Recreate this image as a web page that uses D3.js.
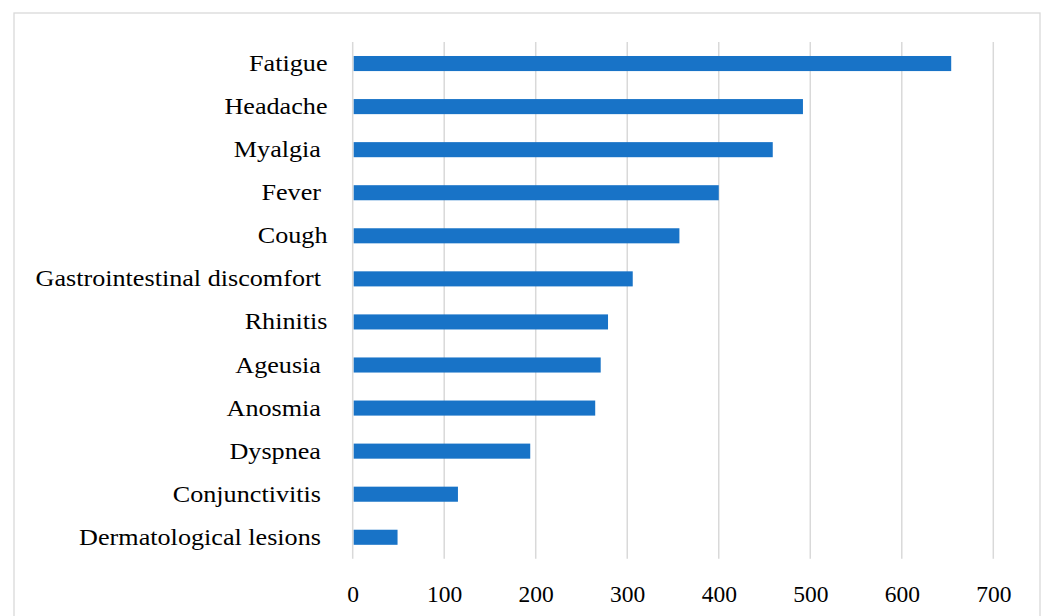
<!DOCTYPE html>
<html>
<head>
<meta charset="utf-8">
<script src="https://cdn.jsdelivr.net/npm/d3@7"></script>
<style>
  html, body { margin: 0; padding: 0; background: #ffffff; }
  svg { display: block; }
  text { font-family: "Liberation Serif", "Times New Roman", serif; fill: #000; white-space: pre; }
</style>
</head>
<body>
<script>
// ---- Data ----
const categories = [
  "Fatigue", "Headache", "Myalgia ", "Fever ", "Cough",
  "Gastrointestinal discomfort ", "Rhinitis", "Ageusia ", "Anosmia ",
  "Dyspnea ", "Conjunctivitis ", "Dermatological lesions "
];
const values = [654, 492, 459, 400, 357, 306, 279, 271, 265, 194, 115, 49];
const tickValues = [0, 100, 200, 300, 400, 500, 600, 700];

// ---- Layout ----
const W = 1046, H = 616;
const svg = d3.select("body").append("svg").attr("width", W).attr("height", H);

// chart border
svg.append("rect")
  .attr("x", 14).attr("y", 13)
  .attr("width", 1026).attr("height", 620)
  .attr("fill", "none").attr("stroke", "#d9d9d9").attr("stroke-width", 1.3);

const x = d3.scaleLinear().domain([0, 700]).range([352.7, 993.3]);
const y = d3.scaleBand().domain(categories).range([42, 558.8])
  .paddingInner(0.65).paddingOuter(0.325);

// gridlines
svg.append("g").selectAll("line").data(tickValues).join("line")
  .attr("x1", d => x(d)).attr("x2", d => x(d))
  .attr("y1", y.range()[0]).attr("y2", y.range()[1])
  .attr("stroke", "#d9d9d9").attr("stroke-width", 1.5);

// bars
const data = categories.map((c, i) => ({ c, v: values[i] }));
svg.append("g").selectAll("rect").data(data).join("rect")
  .attr("x", x(0) + 1)
  .attr("y", d => y(d.c))
  .attr("width", d => x(d.v) - x(0) - 1)
  .attr("height", y.bandwidth())
  .attr("fill", "#1873c7");

// category labels
const lab = svg.append("g").selectAll("g").data(data).join("g")
  .attr("transform", d => `translate(327.5,${y(d.c) + y.bandwidth() / 2 + 7.5}) scale(1.09,1)`);
lab.append("text")
  .attr("text-anchor", "end")
  .attr("font-size", 24)
  .text(d => d.c);

// x axis tick labels
const xAxis = d3.axisBottom(x).tickValues(tickValues).tickSize(0).tickPadding(0).tickFormat(d3.format("d"));
const ax = svg.append("g").attr("transform", "translate(0,0)").call(xAxis);
ax.select(".domain").remove();
ax.selectAll("text")
  .attr("y", 601.7).attr("dy", null)
  .attr("font-size", 23.5)
  .style("font-family", "'Liberation Serif', serif")
  .attr("fill", "#000");
</script>
</body>
</html>
